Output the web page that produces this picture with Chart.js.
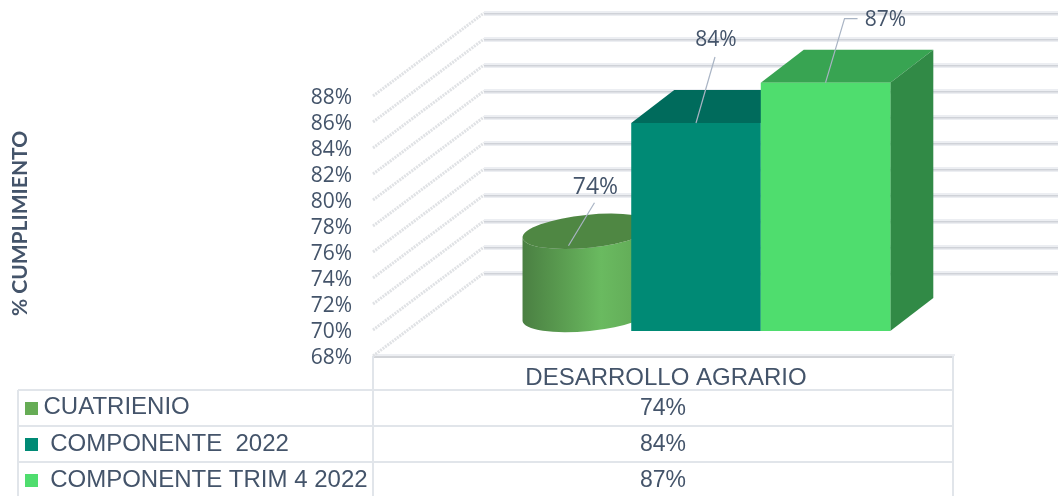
<!DOCTYPE html>
<html>
<head>
<meta charset="utf-8">
<title>% Cumplimiento</title>
<script src="https://cdn.jsdelivr.net/npm/chart.js@4"></script>
<style>
  html, body { margin: 0; padding: 0; background: #fff; }
  canvas { display: block; }
</style>
</head>
<body>
<canvas id="grafico" width="1058" height="496"></canvas>
<script>
// Datos
const categorias = ["DESARROLLO AGRARIO"];
const nombresSeries = ["CUATRIENIO", " COMPONENTE  2022", " COMPONENTE TRIM 4 2022"];
const cuatrienio = [74.4];
const componente2022 = [84];
const componenteTrim4 = [87.1];
const EJE_MIN = 68;
const EJE_MAX = 88;

// Colores
const TEXTO = "#44546a";
const BORDE_TABLA = "#e1e5ea";
const coloresFrente = ["#66ac55", "#008a75", "#4fdd6e"];
const coloresArriba = ["#4f8743", "#006b5c", "#38a452"];
const coloresLado = ["#4f8743", "#005f52", "#318a46"];

// Perspectiva: pared del fondo, plano de las barras y profundidad de la barra
const PARED = { dx: 111, dy: -83 };
const PLANO = { dx: 33, dy: -25 };
const FONDO = { dx: 43, dy: -33 };

// Posicion de cada etiqueta respecto a la cara superior de su barra
const etiquetas = [
  { ax: 2, ay: -2, cx: 26, cy: -43, tx: 27, ty: -58, size: 23 },
  { ax: 0, ay: 0, cx: 19, cy: -66, tx: 20, ty: -83, size: 21 },
  { ax: 0, ay: 0, cx: 19, cy: -64, codo: 13, tx: 60, ty: -63, size: 21 }
];

function caraPoligono(ctx, puntos, color) {
  ctx.beginPath();
  puntos.forEach((p, i) => (i ? ctx.lineTo(p[0], p[1]) : ctx.moveTo(p[0], p[1])));
  ctx.closePath();
  ctx.fillStyle = color;
  ctx.fill();
}

function dibujarParedes(chart) {
  const { ctx, scales: { y }, chartArea } = chart;
  ctx.save();
  y.ticks.forEach(t => {
    const py = y.getPixelForValue(t.value);
    // linea oblicua punteada
    ctx.beginPath();
    ctx.moveTo(chartArea.left, py);
    ctx.lineTo(chartArea.left + PARED.dx, py + PARED.dy);
    ctx.setLineDash([2, 1]);
    ctx.lineWidth = 3;
    ctx.strokeStyle = "#e0e2e5";
    ctx.stroke();
    ctx.setLineDash([]);
    // linea del fondo
    const yf = py + PARED.dy;
    ctx.fillStyle = "#eceef2";
    ctx.fillRect(chartArea.left + PARED.dx, yf - 2, chart.width, 5);
    ctx.fillStyle = "#cfd2d8";
    ctx.fillRect(chartArea.left + PARED.dx, yf, chart.width, 1.5);
  });
  ctx.restore();
}

function dibujarCilindro(ctx, bar, i) {
  const cx = bar.x + FONDO.dx / 2;
  const rx = bar.width / 2 + 1;
  const ry = 16.5;
  const rot = -0.1;
  const cyTop = bar.y + FONDO.dy / 2;
  const cyBase = bar.base + FONDO.dy / 2;
  const g = ctx.createLinearGradient(cx - rx, 0, cx + rx, 0);
  g.addColorStop(0, "#4a7f42");
  g.addColorStop(0.3, "#5a9c50");
  g.addColorStop(0.6, "#6aba60");
  g.addColorStop(1, "#5fa554");
  ctx.beginPath();
  ctx.ellipse(cx, cyTop, rx, ry, rot, Math.PI, 0, true);
  ctx.ellipse(cx, cyBase, rx, ry, rot, 0, Math.PI, false);
  ctx.closePath();
  ctx.fillStyle = g;
  ctx.fill();
  ctx.beginPath();
  ctx.ellipse(cx, cyTop, rx, ry, rot, 0, Math.PI * 2);
  ctx.fillStyle = coloresArriba[i];
  ctx.fill();
}

function dibujarCaja(ctx, bar, i) {
  const x0 = bar.x - bar.width / 2;
  const x1 = bar.x + bar.width / 2;
  caraPoligono(ctx, [[x0, bar.y], [x1, bar.y], [x1 + FONDO.dx, bar.y + FONDO.dy], [x0 + FONDO.dx, bar.y + FONDO.dy]], coloresArriba[i]);
  caraPoligono(ctx, [[x1, bar.y], [x1 + FONDO.dx, bar.y + FONDO.dy], [x1 + FONDO.dx, bar.base + FONDO.dy], [x1, bar.base]], coloresLado[i]);
}

function dibujarEtiqueta(ctx, bar, i, texto) {
  const e = etiquetas[i];
  const ax = bar.x + e.ax;
  const ay = bar.y + e.ay;
  ctx.beginPath();
  ctx.moveTo(ax, ay);
  ctx.lineTo(ax + e.cx, ay + e.cy);
  if (e.codo) ctx.lineTo(ax + e.cx + e.codo, ay + e.cy);
  ctx.lineWidth = 1.2;
  ctx.strokeStyle = "#a9b4c4";
  ctx.stroke();
  ctx.font = e.size + "px 'Open Sans'";
  ctx.fillStyle = TEXTO;
  ctx.textAlign = "center";
  ctx.textBaseline = "middle";
  ctx.fillText(texto, ax + e.tx, ay + e.ty);
}

function dibujarTabla(chart) {
  const { ctx, chartArea, scales: { y } } = chart;
  const base = y.getPixelForValue(y.min);
  const izq = chartArea.left;
  const der = chartArea.right;
  const filas = [390, 426, 462];
  const TABLA_IZQ = 18;
  ctx.save();
  // linea del piso
  ctx.fillStyle = "#eceef2";
  ctx.fillRect(izq, base - 2, der - izq + 2, 2);
  ctx.fillStyle = "#d2d4d8";
  ctx.fillRect(izq, base, der - izq, 2);
  // filas y columnas
  ctx.fillStyle = BORDE_TABLA;
  filas.forEach(f => ctx.fillRect(TABLA_IZQ, f - 1, der - TABLA_IZQ, 2));
  ctx.fillRect(izq - 1, base, 2, chart.height - base);
  ctx.fillRect(der - 1, base, 2, chart.height - base);
  ctx.fillRect(TABLA_IZQ - 1, filas[0], 2, chart.height - filas[0]);
  // contenido
  const valores = [cuatrienio, componente2022, componenteTrim4];
  ctx.textBaseline = "middle";
  filas.forEach((f, i) => {
    const cy = f + 18;
    ctx.fillStyle = coloresFrente[i];
    ctx.fillRect(25, cy - 6, 13, 13);
    ctx.fillStyle = TEXTO;
    ctx.font = "24px 'Liberation Sans'";
    ctx.textAlign = "left";
    ctx.fillText(nombresSeries[i], 43.5, cy - (i === 0 ? 1 : 0));
    ctx.font = "23px 'Liberation Sans'";
    ctx.textAlign = "center";
    ctx.fillText(Math.round(valores[i][0]) + "%", (izq + der) / 2, cy + 1);
  });
  ctx.restore();
}

const plugin3d = {
  id: "plugin3d",
  beforeDatasetsDraw(chart) {
    const ctx = chart.ctx;
    dibujarTabla(chart);
    dibujarParedes(chart);
    // se dibujan en orden 0,1,2 para que cada barra tape a la anterior
    chart.data.datasets.forEach((ds, i) => {
      const bar = chart.getDatasetMeta(i).data[0];
      ctx.save();
      ctx.translate(PLANO.dx, PLANO.dy);
      if (i === 0) {
        dibujarCilindro(ctx, bar, i);
      } else {
        dibujarCaja(ctx, bar, i);
        bar.draw(ctx);
      }
      ctx.restore();
    });
    chart.data.datasets.forEach((ds, i) => {
      const bar = chart.getDatasetMeta(i).data[0];
      ctx.save();
      ctx.translate(PLANO.dx, PLANO.dy);
      dibujarEtiqueta(ctx, bar, i, Math.round(ds.data[0]) + "%");
      ctx.restore();
    });
  },
  beforeDatasetDraw() {
    return false; // ya dibujado arriba
  }
};

new Chart(document.getElementById("grafico"), {
  type: "bar",
  data: {
    labels: categorias,
    datasets: [
      { label: nombresSeries[0], data: cuatrienio, base: EJE_MIN, backgroundColor: coloresFrente[0] },
      { label: nombresSeries[1], data: componente2022, base: EJE_MIN, backgroundColor: coloresFrente[1] },
      { label: nombresSeries[2], data: componenteTrim4, base: EJE_MIN, backgroundColor: coloresFrente[2] }
    ]
  },
  plugins: [plugin3d],
  options: {
    responsive: false,
    animation: false,
    categoryPercentage: 0.67,
    barPercentage: 1,
    layout: { padding: { left: 8, top: 96, right: 105, bottom: 100 } },
    plugins: { legend: { display: false }, tooltip: { enabled: false } },
    scales: {
      x: {
        grid: { display: false },
        border: { display: false },
        afterFit(s) { s.height = 40; },
        ticks: { color: TEXTO, padding: 0, labelOffset: 3, font: { family: "'Liberation Sans'", size: 24 } }
      },
      y: {
        min: EJE_MIN,
        max: EJE_MAX,
        grid: { display: false },
        border: { display: false },
        afterFit(s) { s.width = 365; },
        title: {
          display: true,
          text: " % CUMPLIMIENTO",
          color: TEXTO,
          padding: 0,
          font: { family: "Lato", size: 21, weight: "bold" }
        },
        ticks: {
          stepSize: 2,
          autoSkip: false,
          color: TEXTO,
          padding: 13,
          labelOffset: 2,
          font: { family: "'Open Sans'", size: 21 },
          callback: v => v + "%"
        }
      }
    }
  }
});
</script>
</body>
</html>
